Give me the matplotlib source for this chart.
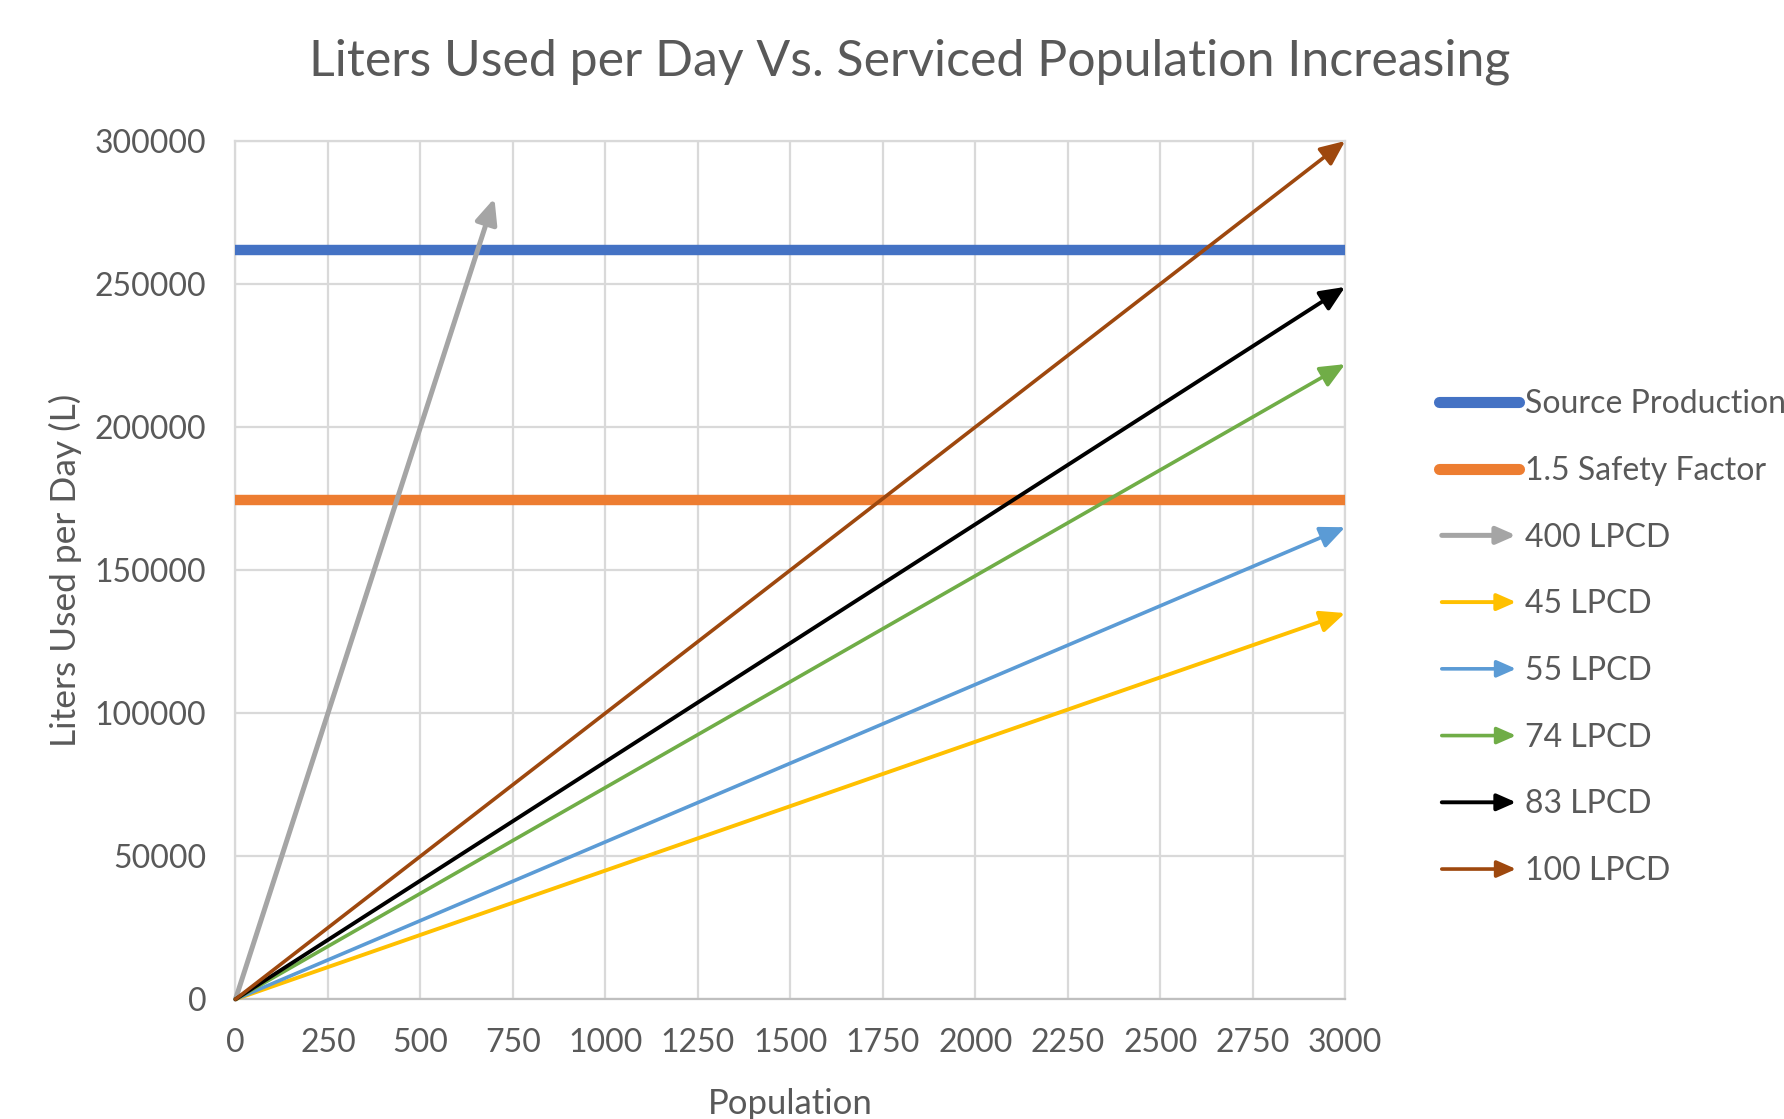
import matplotlib
matplotlib.use("Agg")
from matplotlib import pyplot as plt
from matplotlib.lines import Line2D
from matplotlib.patches import FancyArrowPatch
from matplotlib.legend_handler import HandlerBase

plt.rcParams['font.family'] = ['Lato', 'DejaVu Sans']

# data
pop_full = [0, 3000]
pop_400 = [0, 700]
source_production = 262000
safety_factor = 174667
series_labels = ['400 LPCD', '45 LPCD', '55 LPCD', '74 LPCD', '83 LPCD', '100 LPCD']
series_pop = [pop_400, pop_full, pop_full, pop_full, pop_full, pop_full]
series_vals = [[0, 280000], [0, 135000], [0, 165000], [0, 222000], [0, 249000], [0, 300000]]
series_colors = ['#A5A5A5', '#FFC000', '#5B9BD5', '#70AD47', '#000000', '#9E480E']
series_lw = [3.6, 2.8, 2.6, 2.6, 2.8, 2.6]

text_color = '#595959'
grid_color = '#D9D9D9'
head = '-|>,head_length=0.5,head_width=0.22'


class ArrowHandler(HandlerBase):
    def create_artists(self, legend, orig_handle, xdescent, ydescent,
                       width, height, fontsize, trans):
        y = height / 2 - ydescent
        p = FancyArrowPatch((-xdescent, y), (width - xdescent, y),
                            arrowstyle=head, mutation_scale=23,
                            color=orig_handle.get_color(),
                            lw=orig_handle.get_linewidth(), transform=trans)
        return [p]


fig = plt.figure(figsize=(17.84, 11.19), dpi=100)
ax = fig.add_axes([0.132, 0.107, 0.622, 0.767])

ax.set_xlim(0, 3000)
ax.set_ylim(0, 300000)
ax.set_xticks(range(0, 3001, 250))
ax.set_yticks(range(0, 300001, 50000))
ax.grid(True, color=grid_color, lw=1.6, zorder=0)
ax.set_axisbelow(True)
for s in ax.spines.values():
    s.set_color(grid_color)
    s.set_linewidth(1.6)
ax.spines['bottom'].set_color('#BFBFBF')
ax.tick_params(length=0, labelsize=23, colors=text_color)
ax.tick_params(axis='x', pad=21)
ax.tick_params(axis='y', pad=21)

h1, = ax.plot(pop_full, [source_production] * 2, color='#4472C4', lw=7.5,
              solid_capstyle='butt', zorder=3, label='Source Production')
h2, = ax.plot(pop_full, [safety_factor] * 2, color='#ED7D31', lw=7.5,
              solid_capstyle='butt', zorder=3, label='1.5 Safety Factor')

arrow_handles = []
for xs, ys, c, lw, lab in zip(series_pop, series_vals, series_colors, series_lw, series_labels):
    ax.annotate('', xy=(xs[1], ys[1]), xytext=(xs[0], ys[0]),
                arrowprops=dict(arrowstyle=head, color=c, lw=lw,
                                mutation_scale=30, shrinkA=0, shrinkB=0),
                zorder=4, annotation_clip=False)
    arrow_handles.append(Line2D([], [], color=c, lw=lw, label=lab))

leg_handles = []
for h in [h1, h2]:
    leg_handles.append(Line2D([], [], color=h.get_color(), lw=8,
                              solid_capstyle='round', label=h.get_label()))
leg_handles += arrow_handles
hmap = {h: ArrowHandler() for h in arrow_handles}

leg = fig.legend(handles=leg_handles, handler_map=hmap, loc='upper left',
                 bbox_to_anchor=(0.7905, 0.678), frameon=False, fontsize=23,
                 handlelength=2.5, handletextpad=0.18, labelspacing=1.15,
                 labelcolor=text_color)

fig.text(0.51, 0.945, 'Liters Used per Day Vs. Serviced Population Increasing',
         ha='center', va='center', fontsize=36, color=text_color)
ax.set_xlabel('Population', fontsize=25, color=text_color, labelpad=21)
ax.set_ylabel('Liters Used per Day (L)', fontsize=25.5, color=text_color, labelpad=9)

fig.savefig('out.png', dpi=100)
